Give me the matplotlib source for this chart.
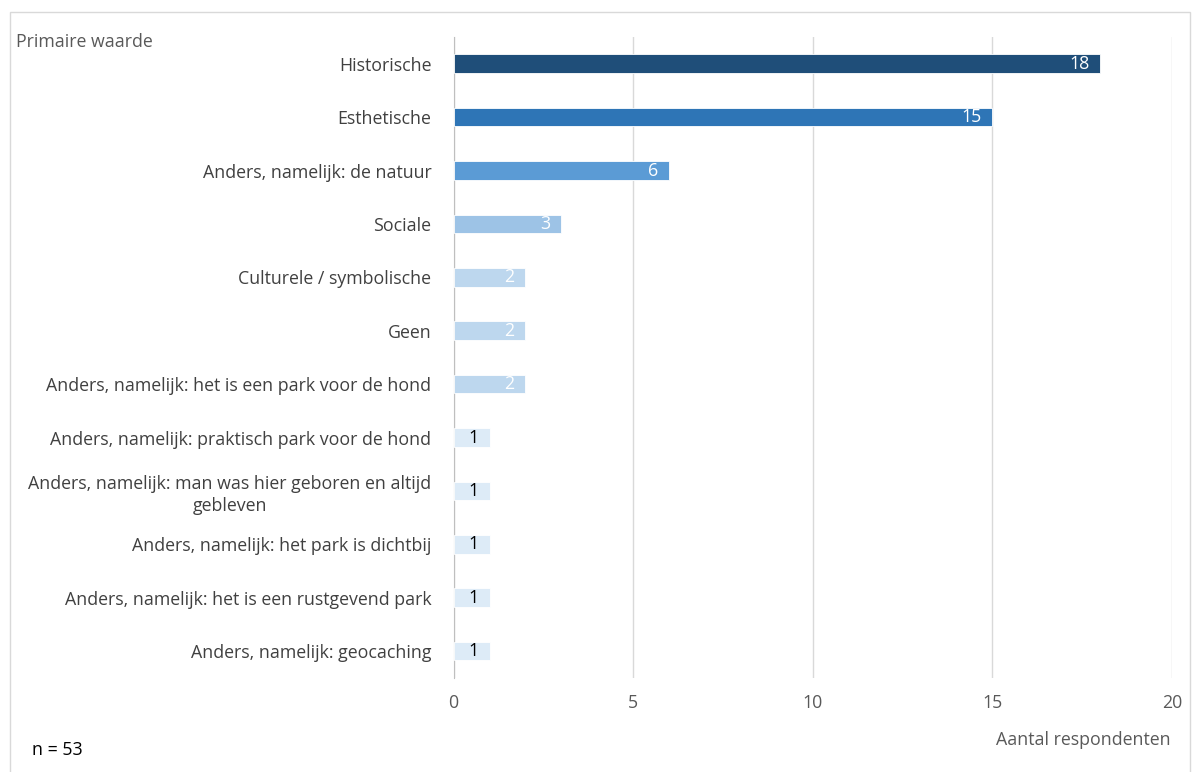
import matplotlib.pyplot as plt
from matplotlib.patches import Rectangle

labels = [
    "Historische",
    "Esthetische",
    "Anders, namelijk: de natuur",
    "Sociale",
    "Culturele / symbolische",
    "Geen",
    "Anders, namelijk: het is een park voor de hond",
    "Anders, namelijk: praktisch park voor de hond",
    "Anders, namelijk: man was hier geboren en altijd\ngebleven",
    "Anders, namelijk: het park is dichtbij",
    "Anders, namelijk: het is een rustgevend park",
    "Anders, namelijk: geocaching",
]
values = [18, 15, 6, 3, 2, 2, 2, 1, 1, 1, 1, 1]
bar_colors = ["#1F4E79", "#2E75B6", "#5B9BD5", "#9DC3E6", "#BDD7EE", "#BDD7EE",
              "#BDD7EE", "#DDEBF7", "#DDEBF7", "#DDEBF7", "#DDEBF7", "#DDEBF7"]
label_colors = ["white"] * 7 + ["black"] * 5

plt.rcParams['font.family'] = ['Open Sans', 'DejaVu Sans']
fs = 12.8

fig = plt.figure(figsize=(11.97, 7.72), dpi=100)
ax = fig.add_axes([0.379, 0.122, 0.6, 0.830])

ypos = list(range(len(values)))
ax.barh(ypos, values, height=0.35, color=bar_colors, edgecolor='white', linewidth=0.6, zorder=3)
for y, v, c in zip(ypos, values, label_colors):
    ax.text(v - 0.3, y, str(v), ha='right', va='center', color=c, fontsize=fs, zorder=4)

ax.set_xlim(0, 20)
ax.set_ylim(len(values) - 0.5, -0.5)
ax.set_xticks([0, 5, 10, 15, 20])
ax.set_yticks(ypos)
ax.set_yticklabels(labels, multialignment='center', linespacing=1.3)
ax.tick_params(axis='y', length=0, pad=16, labelsize=fs, labelcolor='#404040')
ax.tick_params(axis='x', length=0, pad=12, labelsize=fs, labelcolor='#595959')
ax.grid(axis='x', color='#D9D9D9', linewidth=1, zorder=0)
for s in ['top', 'right', 'bottom']:
    ax.spines[s].set_visible(False)
ax.spines['left'].set_color('#BFBFBF')

fig.text(0.013, 0.946, "Primaire waarde", fontsize=fs, color='#595959', ha='left', va='center')
fig.text(0.027, 0.029, "n = 53", fontsize=fs, color='black', ha='left', va='center')
fig.text(0.978, 0.041, "Aantal respondenten", fontsize=fs, color='#595959', ha='right', va='center')

fig.patches.append(Rectangle((0.008, -0.01), 0.986, 0.995, transform=fig.transFigure,
                             fill=False, edgecolor='#D9D9D9', linewidth=1))

fig.savefig('out.png', dpi=100, facecolor='white')
